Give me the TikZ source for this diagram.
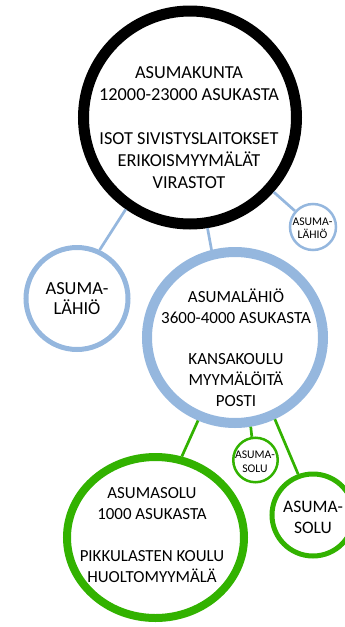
\documentclass[tikz,border=0pt]{standalone}
\usepackage{fontspec}
\setmainfont{Carlito}
\usetikzlibrary{shapes.geometric}
\definecolor{lahioblue}{RGB}{149,183,222}
\definecolor{solugreen}{RGB}{50,178,0}
\tikzset{
  ring/.style={circle, draw, inner sep=0pt},
  oval/.style={ellipse, draw, inner sep=0pt},
  ringtext/.style={align=center, inner sep=0pt},
  link/.style={line width=2.7pt},
}
\begin{document}
\begin{tikzpicture}[x=1pt, y=-1pt]
    \path[use as bounding box, clip] (0,0) rectangle (345,627);
    \node[ring, line width=11pt, minimum size=213pt] (kunta) at (190,117.5) {};
    \node[ringtext, font=\fontsize{18.3}{22}\selectfont] (kunta-txt) at (189,127.5)
        {ASUMAKUNTA\\12000-23000 ASUKASTA\\[22pt]ISOT SIVISTYSLAITOKSET\\ERIKOISMYYMÄLÄT\\VIRASTOT};
    \node[oval, draw=lahioblue, line width=10pt, minimum width=176pt, minimum height=171pt] (lahio) at (235,337.5) {};
    \node[ringtext, font=\fontsize{17}{20.8}\selectfont] (lahio-txt) at (236,347.5)
        {ASUMALÄHIÖ\\3600-4000 ASUKASTA\\[20.8pt]KANSAKOULU\\MYYMÄLÖITÄ\\POSTI};
    \node[ring, draw=lahioblue, line width=5pt, minimum size=102pt] (lahio-l) at (77,298.5) {};
    \node[ringtext, font=\fontsize{18.4}{20}\selectfont] at (lahio-l) {ASUMA-\\LÄHIÖ};
    \node[ring, draw=lahioblue, line width=2.5pt, minimum size=46pt] (lahio-s) at (313,227) {};
    \node[ringtext, font=\fontsize{11.7}{13}\selectfont] at (312.5,228.5) {ASUMA-\\LÄHIÖ};
    \node[oval, draw=solugreen, line width=8pt, minimum width=177pt, minimum height=161pt] (solu) at (155.5,537.5) {};
    \node[ringtext, font=\fontsize{16.9}{21}\selectfont] (solu-txt) at (152,535)
        {ASUMASOLU\\1000 ASUKASTA\\[21pt]PIKKULASTEN KOULU\\HUOLTOMYYMÄLÄ};
    \node[ring, draw=solugreen, line width=2.5pt, minimum size=44.5pt] (solu-s) at (255.5,460) {};
    \node[ringtext, font=\fontsize{11.7}{14}\selectfont] at (255,462) {ASUMA-\\SOLU};
    \node[ring, draw=solugreen, line width=5pt, minimum size=82pt] (solu-r) at (313,515) {};
    \node[ringtext, font=\fontsize{17.5}{21}\selectfont] at (313,517.5) {ASUMA-\\SOLU};
    \draw[link, lahioblue] (kunta.-125) -- (lahio-l.65);
    \draw[link, lahioblue] (kunta.-81) -- (lahio.105);
    \draw[link, lahioblue] (kunta) -- (lahio-s);
    \draw[link, solugreen] (lahio.-114) -- (solu.72);
    \draw[link, solugreen] (lahio.-80) -- (solu-s.99);
    \draw[link, solugreen] (lahio.-64) -- (solu-r.110);
\end{tikzpicture}
\end{document}
